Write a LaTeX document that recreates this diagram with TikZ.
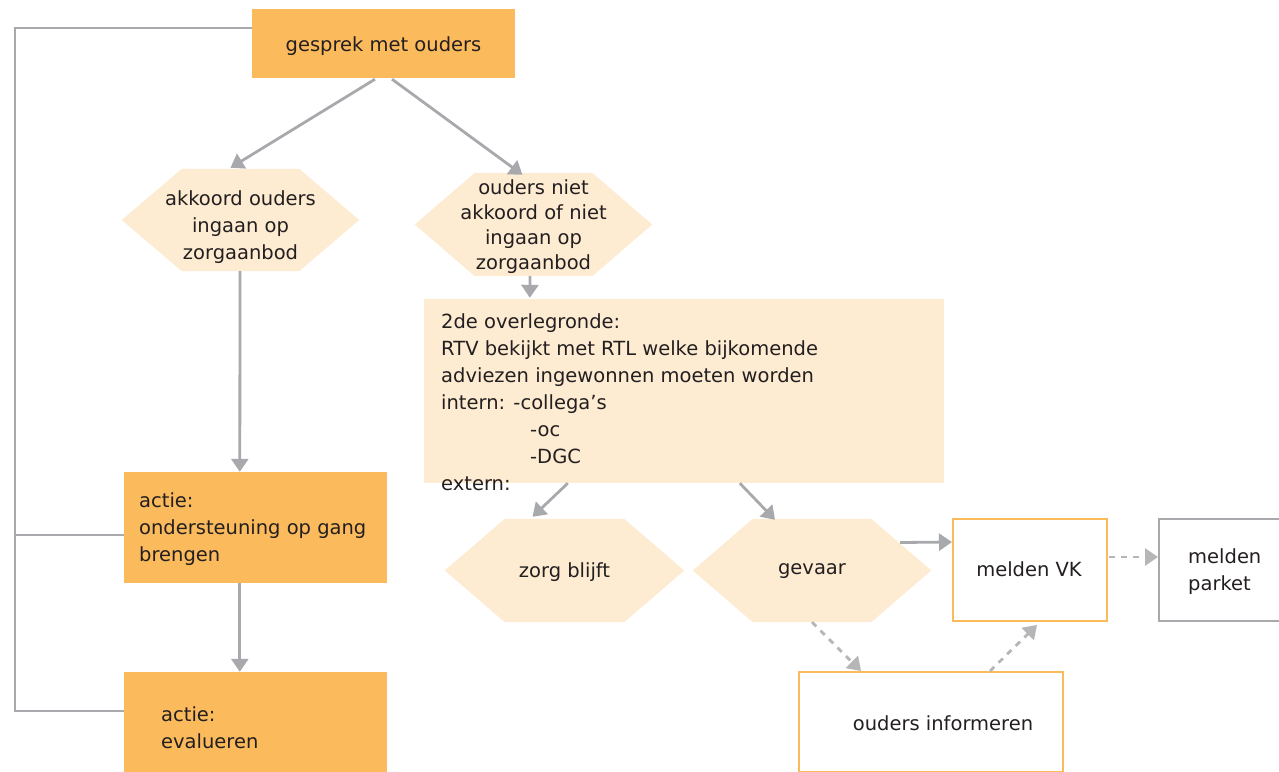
\documentclass[tikz,border=0pt]{standalone}
\usepackage{fontspec}
\setmainfont{DejaVu Sans}
\usetikzlibrary{arrows.meta,calc,backgrounds}

\definecolor{boxorange}{HTML}{FBBA5C}
\definecolor{hexfill}{HTML}{FDEBD2}
\definecolor{linegray}{HTML}{A7A9AC}
\definecolor{dashgray}{HTML}{B6B6B8}
\definecolor{txt}{HTML}{231F20}

% fill a wide hexagon behind a named node
\newcommand\hexbehind[1]{%
  \begin{scope}[on background layer]
    \fill[hexfill] (#1.west) -- ($(#1.north west)+(60,0)$) -- ($(#1.north east)+(-60,0)$)
      -- (#1.east) -- ($(#1.south east)+(-60,0)$) -- ($(#1.south west)+(60,0)$) -- cycle;
  \end{scope}}

\begin{document}
\begin{tikzpicture}[x=1pt,y=-1pt,
  every node/.style={font=\fontsize{19.5}{27}\selectfont, text=txt, inner sep=0pt},
  orangebox/.style={rectangle, fill=boxorange},
  hexnode/.style={rectangle, minimum width=237pt, minimum height=102pt},
  outlinebox/.style={rectangle, draw=boxorange, line width=2pt, fill=white},
  graybox/.style={rectangle, draw=linegray, line width=2pt, fill=white},
  conn/.style={draw=linegray, line width=2.8pt},
  arr/.style={conn, -{Triangle[length=13pt,width=17pt]}},
  dasharr/.style={draw=dashgray, line width=2.8pt, dash pattern=on 6pt off 6pt,
    -{Triangle[length=13pt,width=17pt]}}
]
\useasboundingbox (0,0) rectangle (1279,771);

% top box
\node[orangebox, minimum width=263pt, minimum height=69pt] (g) at (383.5,43.5) {};
\node (gt) at (383.5,46.5) {gesprek met ouders};

% decision hexagons
\node[hexnode] (h1) at (240.5,220) {};
\hexbehind{h1}
\node[align=center] (h1t) at (240.5,227) {akkoord ouders\\ingaan op\\zorgaanbod};
\node[hexnode, minimum height=103pt] (h2) at (533.5,224.5) {};
\hexbehind{h2}
\node[align=center, font=\fontsize{19.5}{25}\selectfont] (h2t) at (533.5,226.5)
  {ouders niet\\akkoord of niet\\ingaan op\\zorgaanbod};

% second consultation box
\node[rectangle, fill=hexfill, minimum width=520pt, minimum height=184pt] (bb) at (684,391) {};
\node[anchor=north west, align=left] (bbt) at (441,313)
  {2de overlegronde:\\RTV bekijkt met RTL welke bijkomende\\adviezen ingewonnen moeten worden\\
   intern: -collega’s\\\hspace*{89pt}-oc\\\hspace*{89pt}-DGC\\extern:};

% action boxes
\node[orangebox, minimum width=263pt, minimum height=111pt] (a1) at (255.5,527.5) {};
\node[anchor=west, align=left] (a1t) at (139,529.5) {actie:\\ondersteuning op gang\\brengen};
\node[orangebox, minimum width=263pt, minimum height=111pt] (a2) at (255.5,727.5) {};
\node[anchor=west, align=left] (a2t) at (161,728) {actie:\\evalueren};

% outcome hexagons
\node[hexnode, minimum width=239pt, minimum height=103pt] (z) at (564.5,570.5) {};
\hexbehind{z}
\node (zt) at (564.5,572.5) {zorg blijft};
\node[hexnode, minimum width=238pt, minimum height=103pt] (gv) at (812,570.5) {};
\hexbehind{gv}
\node (gvt) at (812,571) {gevaar};

% reporting boxes
\node[outlinebox, minimum width=154pt, minimum height=102pt] (vk) at (1030,570) {};
\node (vkt) at (1029,569) {melden VK};
\node[graybox, minimum width=150pt, minimum height=102pt] (pk) at (1234,570) {};
\node[anchor=west, align=left] (pkt) at (1188,572) {melden\\parket};
\node[outlinebox, minimum width=264pt, minimum height=100pt] (inf) at (931,722) {};
\node (inft) at (943,723) {ouders informeren};

% loop back to the top box
\coordinate (lt) at (15,28);
\coordinate (lb) at (15,711);
\draw[conn] ($(g.west)+(0,-15.5)$) -- (lt) -- (lb) -- ($(a2.west)+(0,-16.5)$);
\draw[conn] ($(a1.west)+(0,7.5)$) -- (lb |- {$(a1.west)+(0,7.5)$});

% main flow
\draw[arr] ($(g.south)+(-8.5,1)$) -- ($(h1.north)+(-10,-1)$);
\draw[arr] ($(g.south)+(8.5,1)$) -- ($(h2.north)+(-11,2)$);
\draw[arr] ($(h2.south)+(-3.5,0)$) -- ($(bb.north west)+(106,-1)$);
\draw[arr] (h1.south -| a1t.west) ++(101,0) -- ($(a1.north west)+(116,0)$);
\draw[arr] ($(a1.south west)+(116,0)$) -- ($(a2.north west)+(116,0)$);
\draw[arr] ($(bb.south west)+(144,0)$) -- ($(z.north)+(-32,-2)$);
\draw[arr] ($(bb.south west)+(316,0)$) -- ($(gv.north)+(-37,1)$);
\draw[arr] ($(gv.east)+(-31,-28)$) -- ($(vk.west)+(0,-28)$);

% dotted follow-ups
\draw[dasharr] ($(vk.east)+(1,-13)$) -- ($(pk.west)+(0,-13)$);
\draw[dasharr] (gv.south) -- ($(inf.north west)+(63,0)$);
\draw[dasharr] ($(inf.north)+(59,0)$) -- ($(vk.south)+(7,3)$);
\end{tikzpicture}
\end{document}
